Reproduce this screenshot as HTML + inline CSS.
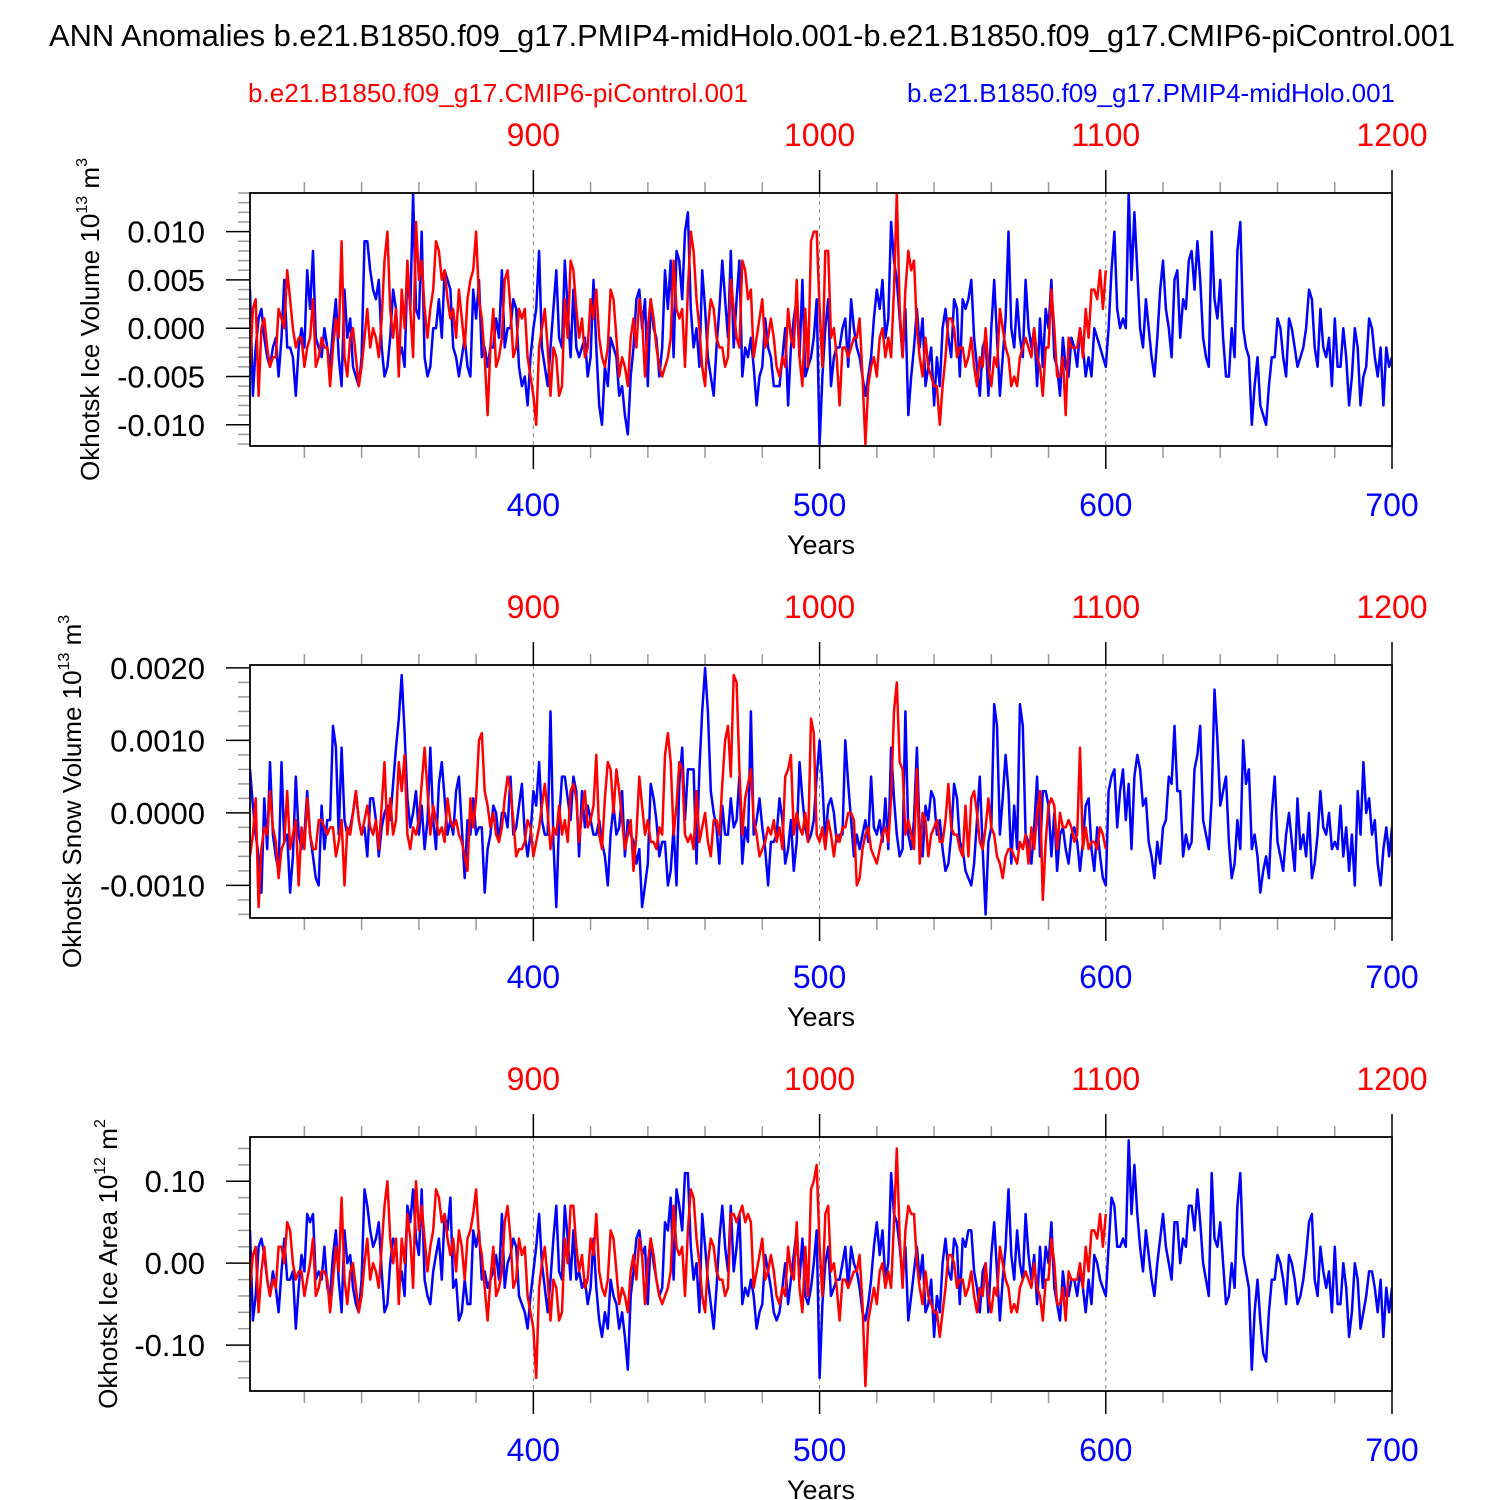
<!DOCTYPE html>
<html><head><meta charset="utf-8"><style>
html,body{margin:0;padding:0;background:#fff}
svg{display:block;font-family:"Liberation Sans",sans-serif}
</style></head><body>
<svg id="chart" width="1500" height="1500" viewBox="0 0 1500 1500" xmlns="http://www.w3.org/2000/svg">
<text x="752" y="46" font-size="30.5" text-anchor="middle" textLength="1406" lengthAdjust="spacingAndGlyphs">ANN Anomalies b.e21.B1850.f09_g17.PMIP4-midHolo.001-b.e21.B1850.f09_g17.CMIP6-piControl.001</text>
<text x="498" y="102" font-size="26" fill="#ff0000" text-anchor="middle" textLength="500" lengthAdjust="spacingAndGlyphs">b.e21.B1850.f09_g17.CMIP6-piControl.001</text>
<text x="1151" y="102" font-size="26" fill="#0000ff" text-anchor="middle" textLength="488" lengthAdjust="spacingAndGlyphs">b.e21.B1850.f09_g17.PMIP4-midHolo.001</text>
</svg>
<script>
// Panel 1: ice volume (units 1e-3 x 1e13 m3)
const volBlue=[4,-7,-2,1,2,-1,-3,-4,-2,-1,-5,-1,5,-2,-2,-3,-7,-2,0,-2,6,2,8,-1,-2,-3,0,-2,-4,0,3,-3,-6,4,-1,1,-4,-5,-6,-3,9,9,6,4,3,5,-2,-5,-4,-1,4,2,-3,-2,-4,6,2,14,2,1,10,-3,-5,-4,0,0,3,-1,6,5,4,-2,-3,-5,-3,-1,-4,-5,4,1,5,-3,-2,-4,-2,-2,1,-1,6,-2,0,0,3,2,-4,-6,-5,-8,-3,0,2,8,-2,-4,-6,-2,2,6,-1,-2,7,2,-3,4,-2,-3,-2,-1,-5,-3,5,-2,-8,-10,-4,-6,-1,-2,-3,-7,-6,-9,-11,-5,-2,3,4,0,3,-6,3,0,-1,-5,-2,6,2,7,-3,8,7,3,10,12,2,-2,0,-4,6,2,-3,-5,-7,-2,2,7,3,-1,8,-2,3,7,-5,-2,-3,-1,-4,-8,-5,-4,1,-2,-3,-6,-6,-6,-3,0,-8,-2,1,3,-3,5,-5,-4,-3,-1,3,-12,-5,0,3,-6,-3,-2,-2,0,1,-4,3,0,-2,-3,-5,-7,-5,-3,1,4,2,5,-1,1,11,7,5,1,-3,2,-9,-5,-2,2,-2,1,-6,-4,-2,-8,-3,-6,0,2,-1,-3,3,2,-5,3,2,3,5,-1,-4,-7,-2,-1,-7,0,5,-1,-7,-3,1,10,0,-2,3,-1,-3,5,0,-2,0,-6,1,-4,2,0,5,-3,-4,-7,-1,-4,-5,-1,-2,-4,0,-2,-5,-3,-5,0,-1,-2,-3,-4,0,6,10,2,0,1,0,14,5,12,6,0,-2,3,0,-3,-5,-1,4,7,2,0,-3,5,6,-1,3,2,7,8,4,9,5,-1,-3,-4,10,3,1,5,-1,-5,-5,0,-3,8,11,0,-2,-3,-10,-6,-3,-8,-9,-10,-6,-3,-3,1,0,-3,-5,1,0,-2,-4,-3,-2,0,4,3,-2,-4,2,-2,-3,-1,-6,1,-4,-4,0,-3,-8,-5,0,-2,-8,-5,-4,1,0,-3,-5,-2,-8,-2,-4,-3];
const volRed=[-4,2,3,-7,0,1,-2,-4,-3,-3,2,1,0,6,3,0,-2,-1,-1,-4,-2,-1,3,-4,-3,-1,-2,-2,-6,-2,1,-1,9,-3,-5,-1,0,-3,-6,-4,-1,2,-2,0,-1,-3,1,7,10,2,-1,2,-5,4,0,7,2,-3,11,5,7,2,-1,2,4,9,8,5,6,3,1,2,-1,4,1,-2,3,5,6,10,3,1,-3,-9,-2,2,-4,-3,-1,5,6,2,-3,-2,2,1,2,-3,-5,-7,-10,-2,0,2,-2,-7,-2,-3,-7,-6,3,-1,7,6,2,-1,1,-3,-2,3,1,4,-1,-3,-4,-2,4,3,-1,-5,-3,-4,-6,-1,1,-2,3,1,-5,0,3,1,-2,-4,-5,-4,-3,-1,7,2,1,2,-4,4,10,8,3,0,-4,-6,0,3,2,-1,-2,-2,-4,-3,5,2,-1,-2,7,6,3,4,-3,-1,1,3,-2,-1,1,-1,-4,-5,-3,-4,2,-1,-2,5,-3,-6,2,-4,9,10,10,2,-4,8,8,-1,0,-3,-8,-2,-2,-3,-2,-1,-1,1,-5,-12,-6,-4,-3,-5,-1,0,-3,-1,-3,4,14,2,-3,4,8,6,7,0,-3,-5,-1,-4,-5,-6,-6,-10,-6,-3,1,1,0,-3,-2,-2,-4,-3,-1,-4,-6,-3,-4,0,-4,-6,-3,-4,2,0,-2,-3,-6,-5,-6,-3,-2,-1,-2,-3,0,-3,-4,-7,-2,-2,4,0,-5,-5,-3,-9,-1,-2,-2,-2,0,-3,2,-1,4,4,3,6,2,6];
// Panel 2: snow volume (units 1e-4 x 1e13 m3)
const snowBlue=[6,1,-3,-6,-11,2,-5,7,-3,-6,-8,7,-4,-3,-11,-6,5,-3,-5,-3,3,-3,-6,-9,-10,1,-5,-1,-1,12,9,-3,9,-1,-3,-2,0,3,-1,-3,-2,-6,2,2,-1,-6,-2,0,1,-1,4,9,13,19,11,2,-2,0,3,-3,1,-5,-1,9,-1,-5,4,7,2,-3,-1,-3,3,5,-2,-9,-1,-3,2,-3,-2,-2,-11,-5,-3,1,0,-4,0,0,-2,5,-3,-2,1,4,-3,-6,-3,3,1,7,-1,-3,-3,14,-4,-13,-1,5,5,2,-1,5,3,-6,3,-2,1,-1,-3,-3,-1,-4,-6,-10,-3,1,-3,-2,3,-6,-1,-3,-4,-7,-5,-13,-10,-7,4,2,-1,-6,-4,-4,-10,-8,-2,-10,4,9,-1,6,6,6,-7,6,14,20,14,3,0,-2,-7,1,-3,-3,2,-2,-1,5,-7,-2,-4,14,-3,-1,2,-2,-5,-10,-4,-4,-3,2,-1,-7,-5,-1,-8,-4,7,2,-2,-4,-3,-1,5,10,4,-4,1,2,0,-4,-3,-3,10,4,-1,-6,-3,-5,-3,-1,-4,5,-2,-3,-1,-4,2,-5,9,2,-3,-6,-5,14,-3,-5,-1,9,-3,-6,1,-1,3,2,-3,-1,-5,-8,-7,-3,4,2,-4,-5,-8,-9,-10,-7,-1,5,-5,-14,-4,-2,15,12,-3,2,8,3,-7,1,-5,15,12,-3,-4,-7,-2,5,-6,3,3,1,-6,0,-8,-3,-2,-5,-7,-3,-2,-4,-8,-4,1,2,-5,-8,-2,-6,-9,-10,3,5,6,-2,3,6,-1,4,-5,5,8,6,1,2,-4,-6,-9,-4,-7,-2,-1,5,4,12,3,3,-6,-3,-5,-4,6,8,12,-1,-3,-5,2,17,10,1,3,5,-4,-9,-7,-1,-5,10,4,6,-5,-3,-6,-11,-8,-6,-9,0,5,-4,-6,-8,-3,0,-4,-8,2,-5,-3,-6,0,-9,-7,-3,3,-2,-3,0,-5,-4,-5,1,-6,-2,-8,-3,-10,3,-3,7,0,2,-3,-1,-7,-10,-5,-2,-6,-2];
const snowRed=[-6,-3,2,-13,-5,-2,-3,3,-2,-4,-9,-5,-4,3,-5,-3,-1,-10,-2,-5,2,-3,-5,-5,-1,-1,-2,-3,-2,-2,-6,-4,-1,-10,-2,-3,0,3,-1,-3,-1,1,-2,-3,-1,-5,1,7,-3,2,-3,-1,7,3,8,-3,-5,-2,-3,-1,4,9,3,-3,1,-1,-3,-2,-4,2,-1,-2,-1,-3,-4,-6,-8,2,-2,2,10,11,3,1,-2,0,-3,-4,-2,2,5,3,-1,-6,-5,-5,-4,-1,-2,-6,-4,-2,1,4,0,-5,-2,-3,1,-3,-1,-4,3,4,2,-4,0,3,-2,-1,1,8,-3,-5,2,7,6,0,6,3,-1,-5,-3,-1,-8,-3,5,1,-3,-1,-4,-4,-5,-2,-3,8,11,7,-3,1,7,6,-3,-4,-3,-5,3,-4,-2,0,-4,-6,-1,-1,-3,4,10,12,5,19,18,6,-3,2,4,6,-1,-3,-6,-5,-4,-2,-3,-1,-4,-2,-5,5,6,8,-3,0,-2,-3,0,-4,13,11,-3,-4,-2,-5,-1,-3,-6,-3,-4,-2,-2,0,0,-1,-10,-9,-5,-3,-2,-5,-6,-7,-5,-3,-2,-4,2,14,18,7,6,-3,-1,-3,-5,6,-7,0,-1,-6,-3,-2,-1,-4,-4,-1,4,-2,-3,-3,-5,-6,1,-6,2,3,0,-4,-5,-2,2,-2,-3,-6,-7,-9,-6,-5,-5,-6,-7,-4,-5,-3,-7,-2,-5,0,3,-12,-4,1,2,1,-5,0,-2,-2,-1,-2,-4,-3,9,-5,-2,-5,-4,-4,-5,-2,-3,-5];
// Panel 3: ice area (units 0.01 x 1e12 m2)
const areaBlue=[4,-7,-4,2,3,1,-2,-4,-1,-3,-6,-1,3,-2,-2,-1,-8,-3,1,-1,6,5,6,-2,-1,-2,2,-3,-4,1,4,-2,-6,4,0,1,-3,-5,-6,-2,9,7,4,2,3,5,-1,-6,-5,0,3,2,-3,-1,-4,7,5,9,3,1,9,-2,-4,-5,-1,1,3,-2,6,4,8,-3,-2,-7,-6,-2,-5,-5,4,2,4,-2,-1,-3,-2,-1,1,-2,6,-3,0,1,3,2,-4,-5,-6,-8,-4,-1,2,6,0,-3,-6,-2,3,7,-1,-2,7,3,-2,4,-2,-1,-3,-2,-5,-3,3,-3,-7,-9,-6,-8,-2,-4,-5,-8,-6,-9,-13,-4,-1,3,4,1,2,-5,3,0,-2,-4,-3,5,4,8,-2,9,7,4,11,11,2,-2,0,-6,6,2,-2,-5,-8,-3,3,7,2,-1,7,-1,2,6,-5,-3,-4,-2,-4,-8,-6,-5,1,-1,-3,-6,-7,-6,-3,0,-5,-2,1,4,-2,3,-4,-5,-3,0,4,-14,-5,0,2,-4,-3,-2,-2,0,2,-3,2,0,-1,-3,-6,-7,-5,-2,2,5,1,4,-2,0,11,6,5,2,-2,2,-7,-4,-1,2,-2,1,-6,-5,-2,-9,-4,-6,0,3,-1,-2,3,2,-5,3,2,4,4,-1,-3,-6,-1,0,-6,1,5,-1,-7,-2,2,9,1,-2,4,0,-2,6,1,-2,1,-5,2,-3,2,0,5,-3,-5,-7,-1,-4,-4,-2,-2,-4,-1,-3,-6,-2,-5,1,0,-2,-3,-4,2,8,7,2,2,3,2,15,6,12,6,2,-1,4,1,-2,-4,0,3,6,2,0,-2,5,5,0,3,2,7,7,4,9,5,0,-2,-4,11,3,2,5,0,-5,-4,0,-3,7,11,1,-1,-3,-13,-6,-2,-7,-11,-12,-6,-2,-2,1,0,-2,-5,1,0,-2,-5,-4,-2,1,5,6,-2,-4,2,-1,-3,-1,-6,2,-5,-5,0,-3,-9,-6,0,-2,-8,-6,-4,-1,-1,-3,-6,-2,-9,-3,-6,-3];
const areaRed=[-3,1,2,-6,-1,2,-2,-4,-2,-3,2,2,0,5,4,0,-2,-1,-1,-4,-2,0,3,-4,-3,-1,-1,-2,-6,-2,2,-1,8,-2,-5,-1,0,-3,-6,-4,0,3,-2,0,-1,-3,2,7,10,3,0,3,-5,3,0,6,3,-3,10,4,7,3,-1,2,4,9,8,5,6,3,1,3,-1,4,2,-2,3,4,6,9,3,1,-3,-7,-2,2,-4,-3,-1,5,7,3,-3,-2,3,1,2,-4,-6,-8,-14,-3,0,2,-2,-7,-2,-3,-7,-6,3,0,7,7,2,-1,1,-3,-2,3,1,6,-1,-3,-4,-2,4,3,-1,-5,-3,-4,-6,-1,1,-2,3,1,-5,0,3,1,-2,-4,-5,-4,-3,-1,7,2,1,2,-4,4,9,8,3,0,-4,-6,0,3,2,-1,-2,-2,-4,-3,6,6,5,6,7,5,6,5,-3,-1,1,3,-2,-1,1,-1,-4,-5,-3,-4,2,-1,-2,5,-3,-6,2,-4,9,10,12,2,-4,6,7,-1,0,-3,-7,-2,-2,-3,-2,-1,-1,1,-5,-15,-7,-5,-3,-5,-1,0,-3,-1,-3,5,14,3,-3,4,7,6,6,0,-3,-5,-1,-4,-5,-6,-6,-9,-6,-3,1,1,0,-3,-2,-2,-4,-3,-1,-4,-6,-3,-4,0,-4,-6,-3,-4,2,0,-2,-3,-6,-5,-6,-3,-2,-1,-2,-3,0,-3,-4,-7,-2,-2,3,0,-5,-5,-3,-7,-1,-2,-2,-2,0,-3,2,-1,4,4,3,6,2,6];
const bottomTicks=["400","500","600","700"];
const topTicks=["900","1000","1100","1200"];
const vol_labels=["0.010","0.005","0.000","-0.005","-0.010"];
const snow_labels=["0.0020","0.0010","0.0000","-0.0010"];
const area_labels=["0.10","0.00","-0.10"];

const svg=document.getElementById('chart');
const NS='http://www.w3.org/2000/svg';
const X0=250,X1=1392,YR0=301,YR1=700;
function xScale(yr){return X0+(yr-YR0)*(X1-X0)/(YR1-YR0);}
function mk(tag,attrs,parent){const e=document.createElementNS(NS,tag);for(const k in attrs)e.setAttribute(k,attrs[k]);(parent||svg).appendChild(e);return e;}

const panels=[
 {key:'ice-volume',top:193,bot:446,vTop:0.0140,vBot:-0.0122,scale:0.001,blue:volBlue,red:volRed,labels:vol_labels,labVals:[0.010,0.005,0,-0.005,-0.010],major:0.005,minor:0.001,title:'Okhotsk Ice Volume 10',sup:'13',unit:' m',usup:'3',tx:99},
 {key:'snow-volume',top:665,bot:918,vTop:0.00204,vBot:-0.00145,scale:0.0001,blue:snowBlue,red:snowRed,labels:snow_labels,labVals:[0.002,0.001,0,-0.001],major:0.001,minor:0.0002,title:'Okhotsk Snow Volume 10',sup:'13',unit:' m',usup:'3',tx:81},
 {key:'ice-area',top:1137,bot:1391,vTop:0.154,vBot:-0.156,scale:0.01,blue:areaBlue,red:areaRed,labels:area_labels,labVals:[0.1,0,-0.1],major:0.1,minor:0.02,title:'Okhotsk Ice Area 10',sup:'12',unit:' m',usup:'2',tx:117}
];

panels.forEach(p=>{
 const g=mk('g',{});
 
 
 const y=v=>p.top+(p.vTop-v)*(p.bot-p.top)/(p.vTop-p.vBot);
 [400,500,600].forEach(yr=>{
  const l=mk('line',{x1:xScale(yr),x2:xScale(yr),y1:p.top,y2:p.bot,stroke:'#888','stroke-width':1,'stroke-dasharray':'4,4'},g);
  
  
 });
 const n0=Math.ceil(p.vBot/p.minor-1e-6),n1=Math.floor(p.vTop/p.minor+1e-6);
 for(let i=n0;i<=n1;i++){
  const v=i*p.minor;const isMaj=Math.abs(v/p.major-Math.round(v/p.major))<1e-6;
  mk('line',{x1:X0,x2:X0-(isMaj?24:12),y1:y(v),y2:y(v),stroke:isMaj?'#000':'#999','stroke-width':1.5},g);
 }
 p.labels.forEach((t,i)=>{
  const e=mk('text',{x:205,y:y(p.labVals[i])+11,'font-size':31,'text-anchor':'end'},g);
  e.textContent=t;
  
  
 });
 for(let yr=320;yr<=700;yr+=20){
  const isMaj=yr%100===0;const x=xScale(yr);
  mk('line',{x1:x,x2:x,y1:p.bot,y2:p.bot+(isMaj?23:12),stroke:isMaj?'#000':'#999','stroke-width':1.5},g);
  mk('line',{x1:x,x2:x,y1:p.top,y2:p.top-(isMaj?23:11),stroke:isMaj?'#000':'#999','stroke-width':1.5},g);
 }
 bottomTicks.forEach(t=>{
  const e=mk('text',{x:xScale(+t),y:p.bot+70,'font-size':32,'text-anchor':'middle',fill:'#0000ff'},g);
  e.textContent=t;
  
  
 });
 topTicks.forEach(t=>{
  const e=mk('text',{x:xScale(+t-500),y:p.top-47,'font-size':32,'text-anchor':'middle',fill:'#ff0000'},g);
  e.textContent=t;
  
  
 });
 const xt=mk('text',{x:821,y:p.bot+108,'font-size':27,'text-anchor':'middle'},g);
 xt.textContent='Years';
 
 
 const cy=(p.top+p.bot)/2;
 const yt=mk('text',{x:p.tx,y:cy,'font-size':26,'text-anchor':'middle',transform:'rotate(-90 '+p.tx+' '+cy+')'},g);
 
 
 yt.appendChild(document.createTextNode(p.title));
 const s1=mk('tspan',{'font-size':16,dy:-12},yt);s1.textContent=p.sup;
 const s2=mk('tspan',{dy:12},yt);s2.textContent=p.unit;
 const s3=mk('tspan',{'font-size':16,dy:-12},yt);s3.textContent=p.usup;
 const cp=mk('clipPath',{id:'clip-'+p.key},g);
 mk('rect',{x:X0,y:p.top,width:X1-X0,height:p.bot-p.top},cp);
 const blueP=p.blue.map((v,i)=>xScale(YR0+i).toFixed(1)+','+y(v*p.scale).toFixed(1)).join(' ');
 const bl=mk('polyline',{points:blueP,fill:'none',stroke:'#0000ff','stroke-width':2.5,'stroke-linejoin':'round','clip-path':'url(#clip-'+p.key+')'},g);
 
 
 const redP=p.red.map((v,i)=>xScale(YR0+i).toFixed(1)+','+y(v*p.scale).toFixed(1)).join(' ');
 const rl=mk('polyline',{points:redP,fill:'none',stroke:'#ff0000','stroke-width':2.5,'stroke-linejoin':'round','clip-path':'url(#clip-'+p.key+')'},g);
 
 
 const fr=mk('rect',{x:X0,y:p.top,width:X1-X0,height:p.bot-p.top,fill:'none',stroke:'#000','stroke-width':1.8},g);
 
 
});
</script>
</body></html>
